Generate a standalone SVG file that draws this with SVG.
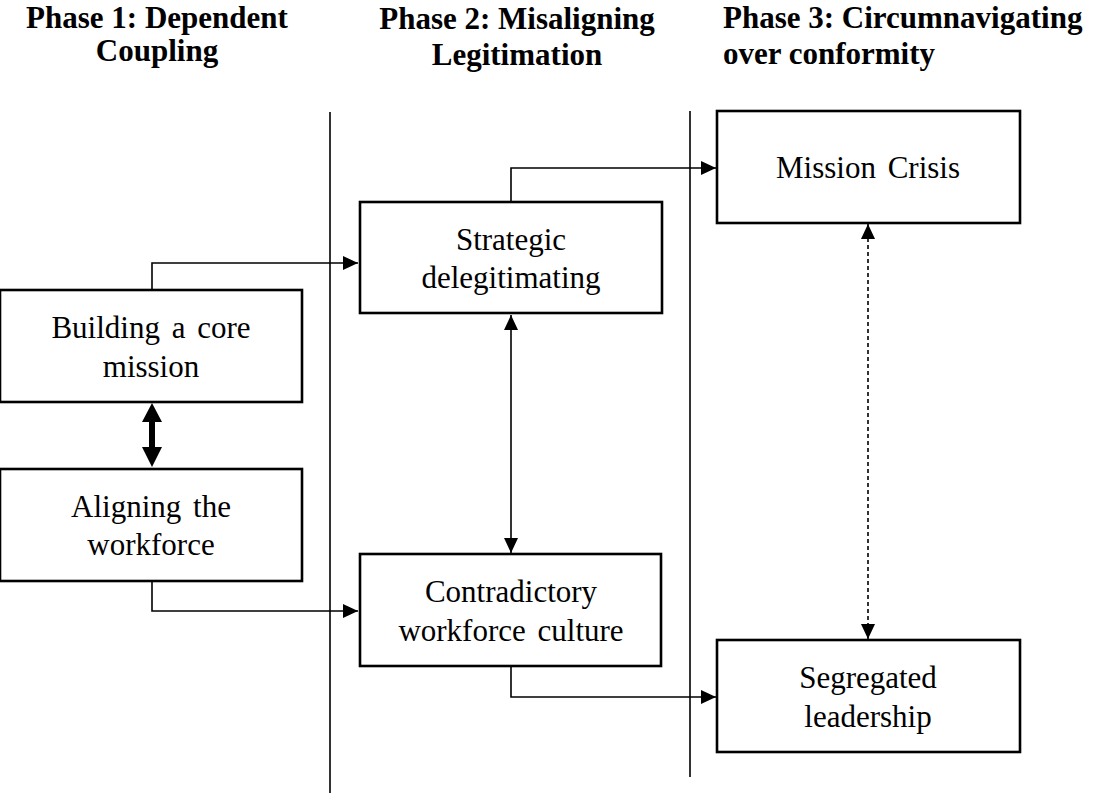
<svg xmlns="http://www.w3.org/2000/svg" width="1096" height="795" viewBox="0 0 1096 795">
<style>
.box{fill:#fff;stroke:#000;stroke-width:2.6}
.t{font-family:"Liberation Serif","Times New Roman",serif;font-size:31px;fill:#000;text-anchor:middle;word-spacing:4px}
.h{font-family:"Liberation Serif","Times New Roman",serif;font-size:31px;font-weight:bold;fill:#000}
.c{fill:none;stroke:#000;stroke-width:1.6}
.div{stroke:#000;stroke-width:1.6}
</style>
<defs>
<marker id="ah" markerUnits="userSpaceOnUse" markerWidth="15" markerHeight="14" refX="15" refY="7" orient="auto-start-reverse" viewBox="0 0 15 14">
<path d="M0,0 L15,7 L0,14 z" fill="#000"/>
</marker>
</defs>
<rect width="1096" height="795" fill="#fff"/>
<g id="headings">
<text class="h" x="157" y="28" text-anchor="middle">Phase 1: Dependent</text>
<text class="h" x="157" y="61" text-anchor="middle">Coupling</text>
<text class="h" x="517" y="29" text-anchor="middle">Phase 2: Misaligning</text>
<text class="h" x="517" y="65" text-anchor="middle">Legitimation</text>
<text class="h" x="723" y="28">Phase 3: Circumnavigating</text>
<text class="h" x="723" y="64">over conformity</text>
</g>
<g id="dividers">
<line class="div" x1="330" y1="112" x2="330" y2="793"/>
<line class="div" x1="690" y1="111" x2="690" y2="777"/>
</g>
<g id="connectors">
<path class="c" d="M152,290 V263 H358" marker-end="url(#ah)"/>
<path class="c" d="M152,581 V611 H358" marker-end="url(#ah)"/>
<path class="c" d="M511,202 V168 H716" marker-end="url(#ah)"/>
<path class="c" d="M511,666 V697 H716" marker-end="url(#ah)"/>
<path class="c" d="M511,315 V553" marker-start="url(#ah)" marker-end="url(#ah)"/>
<path class="c" d="M868,224 V639" stroke-dasharray="4,3" marker-start="url(#ah)" marker-end="url(#ah)"/>
<polygon points="152,403 162,422 155,422 155,447 162,447 152,467 142,447 149,447 149,422 142,422" fill="#000"/>
</g>
<g id="n1">
<rect class="box" x="0" y="290" width="302" height="112"/>
<text class="t" x="151" y="338">Building a core</text>
<text class="t" x="151" y="377">mission</text>
</g>
<g id="n2">
<rect class="box" x="0" y="469" width="302" height="112"/>
<text class="t" x="151" y="517">Aligning the</text>
<text class="t" x="151" y="555">workforce</text>
</g>
<g id="n3">
<rect class="box" x="360" y="202" width="302" height="111"/>
<text class="t" x="511" y="250">Strategic</text>
<text class="t" x="511" y="288">delegitimating</text>
</g>
<g id="n4">
<rect class="box" x="360" y="554" width="301" height="112"/>
<text class="t" x="511" y="602">Contradictory</text>
<text class="t" x="511" y="641">workforce culture</text>
</g>
<g id="n5">
<rect class="box" x="717" y="111" width="303" height="112"/>
<text class="t" x="868" y="178">Mission Crisis</text>
</g>
<g id="n6">
<rect class="box" x="717" y="640" width="303" height="112"/>
<text class="t" x="868" y="688">Segregated</text>
<text class="t" x="868" y="727">leadership</text>
</g>
</svg>
